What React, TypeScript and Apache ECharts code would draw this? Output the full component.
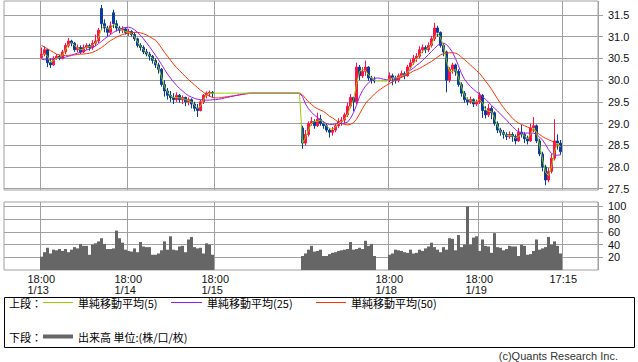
import React, { useEffect, useRef } from "react";
import * as echarts from "echarts";

// ---- axis layout data ----
const TOTAL_SLOTS = 198;
const FIRST_SLOT = 12;
const SEG_B_START = 99;
const SEG_C_START = 128;
const tickSlots = [12, 41, 70, 128, 158, 186];
const tickTimes = ["18:00", "18:00", "18:00", "18:00", "18:00", "17:15"];
const tickDates = ["1/13", "1/14", "1/15", "1/18", "1/19", ""];
const priceTicks = [27.5, 28.0, 28.5, 29.0, 29.5, 30.0, 30.5, 31.0, 31.5];
const volumeTicks = [20, 40, 60, 80, 100];

// ---- candles [open, close, low, high] ----
const candlesA = [
  [30.52, 30.60, 30.50, 30.75], [30.60, 30.70, 30.55, 30.78], [30.70, 30.40, 30.30, 30.72], [30.40, 30.35, 30.28, 30.50],
  [30.35, 30.50, 30.33, 30.55], [30.50, 30.55, 30.47, 30.60], [30.55, 30.50, 30.46, 30.58], [30.50, 30.65, 30.48, 30.70],
  [30.65, 30.80, 30.60, 30.85], [30.80, 30.90, 30.75, 30.97], [30.90, 30.85, 30.78, 30.93], [30.85, 30.70, 30.65, 30.88],
  [30.70, 30.75, 30.64, 30.82], [30.75, 30.65, 30.60, 30.80], [30.65, 30.75, 30.62, 30.82], [30.75, 30.80, 30.70, 30.85],
  [30.80, 30.75, 30.68, 30.84], [30.75, 30.85, 30.70, 30.92], [30.85, 30.90, 30.78, 31.05], [30.90, 31.15, 30.85, 31.20],
  [31.65, 31.30, 31.15, 31.73], [31.30, 31.20, 31.10, 31.40], [31.20, 31.10, 31.00, 31.25], [31.10, 31.25, 31.05, 31.35],
  [31.55, 31.30, 31.20, 31.62], [31.30, 31.20, 31.12, 31.38], [31.20, 31.15, 31.08, 31.25], [31.15, 31.18, 31.08, 31.24],
  [31.18, 31.10, 31.05, 31.22], [31.10, 31.12, 31.02, 31.18], [31.12, 31.05, 31.00, 31.15], [31.05, 30.95, 30.90, 31.10],
  [30.95, 30.80, 30.75, 30.98], [30.80, 30.75, 30.68, 30.85], [30.75, 30.65, 30.60, 30.80], [30.65, 30.60, 30.55, 30.72],
  [30.60, 30.55, 30.45, 30.65], [30.55, 30.45, 30.38, 30.58], [30.45, 30.35, 30.28, 30.50], [30.35, 30.25, 30.15, 30.40],
  [30.25, 29.90, 29.85, 30.28], [29.90, 29.75, 29.62, 30.00], [29.75, 29.65, 29.55, 29.82], [29.65, 29.60, 29.50, 29.75],
  [29.60, 29.55, 29.45, 29.70], [29.55, 29.65, 29.50, 29.72], [29.65, 29.55, 29.48, 29.68], [29.55, 29.60, 29.45, 29.65],
  [29.60, 29.50, 29.40, 29.62], [29.50, 29.55, 29.42, 29.60], [29.55, 29.45, 29.35, 29.58], [29.45, 29.35, 29.28, 29.50],
  [29.35, 29.30, 29.15, 29.45], [29.30, 29.50, 29.28, 29.55], [29.50, 29.65, 29.45, 29.68], [29.65, 29.70, 29.58, 29.74],
  [29.70, 29.72, 29.62, 29.76], [29.72, 29.70, 29.60, 29.75],
];
const candlesB = [
  [28.90, 28.55, 28.42, 28.95], [28.55, 28.75, 28.50, 28.85], [28.75, 29.00, 28.70, 29.05], [29.00, 29.05, 28.95, 29.15],
  [29.05, 28.95, 28.88, 29.10], [28.95, 29.10, 28.92, 29.25], [29.10, 29.00, 28.95, 29.20], [29.00, 28.95, 28.88, 29.05],
  [28.95, 28.85, 28.80, 29.00], [28.85, 28.80, 28.68, 28.90], [28.80, 28.85, 28.72, 28.92], [28.85, 28.95, 28.80, 29.00],
  [28.95, 29.05, 28.90, 29.12], [29.05, 29.08, 28.95, 29.15], [29.08, 29.20, 29.00, 29.25], [29.20, 29.40, 29.15, 29.48],
  [29.40, 29.60, 29.35, 29.68], [29.60, 29.50, 29.28, 29.62], [29.50, 30.30, 29.45, 30.40], [30.30, 30.10, 30.00, 30.35],
  [30.10, 30.20, 30.05, 30.30], [30.20, 30.30, 30.10, 30.45], [30.30, 30.05, 29.98, 30.32], [30.05, 30.00, 29.92, 30.10],
  [30.00, 29.98, 29.93, 30.08],
];
const candlesC = [
  [30.00, 30.10, 29.95, 30.18], [30.10, 30.05, 29.88, 30.15], [30.05, 30.00, 29.92, 30.10], [30.00, 30.10, 29.95, 30.15],
  [30.10, 30.15, 30.05, 30.22], [30.15, 30.10, 30.02, 30.20], [30.10, 30.30, 30.08, 30.35], [30.30, 30.40, 30.25, 30.48],
  [30.40, 30.50, 30.35, 30.58], [30.50, 30.55, 30.42, 30.62], [30.55, 30.70, 30.50, 30.78], [30.70, 30.75, 30.62, 30.82],
  [30.75, 30.70, 30.62, 30.80], [30.70, 30.80, 30.65, 30.87], [30.80, 30.95, 30.75, 31.02], [30.95, 31.20, 30.90, 31.32],
  [31.20, 31.10, 31.00, 31.25], [31.10, 30.80, 30.75, 31.12], [30.80, 30.65, 30.55, 30.85], [30.65, 30.00, 29.72, 30.68],
  [30.00, 30.25, 29.95, 30.30], [30.25, 30.35, 30.15, 30.40], [30.35, 30.20, 30.10, 30.38], [30.20, 29.90, 29.85, 30.25],
  [29.90, 29.70, 29.62, 29.95], [29.70, 29.55, 29.48, 29.75], [29.55, 29.50, 29.42, 29.60], [29.50, 29.55, 29.45, 29.62],
  [29.55, 29.45, 29.38, 29.58], [29.45, 29.50, 29.40, 29.55], [29.50, 29.65, 29.45, 29.72], [29.65, 29.30, 29.13, 29.68],
  [29.30, 29.20, 29.12, 29.40], [29.20, 29.35, 29.15, 29.45], [29.35, 29.25, 29.10, 29.40], [29.25, 29.00, 28.95, 29.28],
  [29.00, 28.85, 28.78, 29.05], [28.85, 28.80, 28.72, 28.90], [28.80, 28.75, 28.65, 28.85], [28.75, 28.70, 28.62, 28.80],
  [28.70, 28.75, 28.65, 28.82], [28.75, 28.70, 28.58, 28.80], [28.70, 28.60, 28.52, 28.75], [28.60, 28.80, 28.58, 28.90],
  [28.80, 28.75, 28.68, 28.97], [28.75, 28.65, 28.55, 28.80], [28.65, 28.60, 28.52, 28.72], [28.60, 28.90, 28.58, 29.00],
  [28.90, 28.95, 28.80, 29.15], [28.95, 28.60, 28.55, 28.98], [28.60, 28.30, 28.25, 28.65], [28.30, 28.00, 27.90, 28.35],
  [28.00, 27.70, 27.58, 28.05], [27.70, 27.90, 27.65, 27.98], [27.90, 28.20, 27.85, 28.30], [28.20, 28.60, 28.15, 29.10],
  [28.60, 28.55, 28.40, 28.75], [28.55, 28.35, 28.28, 28.62],
];

// ---- volume (per slot) ----
const volumeA = [21, 28, 35, 26, 32, 31, 33, 30, 33, 28, 32, 36, 34, 41, 38, 38, 24, 40, 42, 45, 50, 41, 33, 33, 34, 62, 50, 43, 32, 30, 29, 34, 28, 44, 37, 36, 36, 24, 24, 26, 31, 45, 32, 53, 32, 31, 37, 38, 28, 48, 52, 36, 34, 35, 26, 42, 40, 24];
const volumeB = [22, 26, 32, 38, 29, 30, 32, 22, 22, 25, 27, 28, 30, 31, 32, 33, 44, 32, 33, 35, 33, 46, 38, 41, 22];
const volumeC = [24, 26, 32, 31, 30, 28, 27, 32, 26, 27, 32, 30, 34, 37, 43, 36, 32, 28, 36, 32, 50, 49, 31, 55, 36, 40, 100, 40, 51, 53, 30, 48, 38, 37, 27, 58, 36, 35, 31, 33, 38, 37, 37, 22, 40, 38, 24, 25, 30, 48, 32, 34, 36, 52, 40, 45, 38, 26];

// ---- moving averages, slots 12..185 ----
const ma5 = [
  30.55, 30.62, 30.55, 30.42, 30.45, 30.50, 30.52, 30.57, 30.70, 30.82,
  30.86, 30.80, 30.74, 30.70, 30.71, 30.76, 30.77, 30.80, 30.86, 30.98,
  31.18, 31.25, 31.18, 31.18, 31.28, 31.26, 31.18, 31.15, 31.12, 31.10,
  31.07, 31.00, 30.88, 30.78, 30.70, 30.63, 30.57, 30.50, 30.40, 30.30,
  30.08, 29.85, 29.72, 29.64, 29.60, 29.60, 29.59, 29.58, 29.55, 29.53,
  29.50, 29.42, 29.35, 29.40, 29.55, 29.65, 29.70, 29.70,
  29.70, 29.70, 29.70, 29.70, 29.70, 29.70, 29.70, 29.70, 29.70, 29.70,
  29.70, 29.70, 29.70, 29.70, 29.70, 29.70, 29.70, 29.70, 29.70, 29.70,
  29.70, 29.70, 29.70, 29.70, 29.70, 29.70, 29.70, 29.70, 29.70,
  28.55, 28.68, 28.85, 29.00, 29.05, 29.05, 29.08, 29.02, 28.95, 28.88,
  28.87, 28.92, 29.00, 29.05, 29.10, 29.20, 29.40, 29.55, 29.90, 30.20,
  30.25, 30.22, 30.12, 30.05, 30.00, 29.98, 29.98, 29.98, 29.98,
  30.02, 30.05, 30.05, 30.06, 30.10, 30.12, 30.18, 30.28, 30.38, 30.48,
  30.58, 30.66, 30.70, 30.74, 30.82, 30.98, 31.08, 30.98, 30.78, 30.45,
  30.20, 30.20, 30.25, 30.05, 29.85, 29.65, 29.56, 29.53, 29.50, 29.50,
  29.56, 29.48, 29.32, 29.28, 29.28, 29.12, 28.95, 28.82, 28.77, 28.73,
  28.72, 28.72, 28.66, 28.70, 28.76, 28.72, 28.65, 28.75, 28.90, 28.80,
  28.50, 28.18, 27.88, 27.80, 28.00, 28.35, 28.55, 28.46,
];
const ma25 = [
  30.48, 30.47, 30.47, 30.48, 30.49, 30.50, 30.51, 30.52, 30.53, 30.55,
  30.57, 30.60, 30.62, 30.64, 30.66, 30.69, 30.72, 30.75, 30.79, 30.84,
  30.89, 30.95, 31.00, 31.05, 31.10, 31.14, 31.17, 31.20, 31.21, 31.22,
  31.20, 31.16, 31.10, 31.03, 30.95, 30.86, 30.77, 30.67, 30.57, 30.47,
  30.36, 30.25, 30.14, 30.05, 29.96, 29.88, 29.81, 29.75, 29.69, 29.64,
  29.61, 29.58, 29.56, 29.55, 29.54, 29.54, 29.54, 29.55,
  29.55, 29.56, 29.57, 29.59, 29.60, 29.62, 29.63, 29.65, 29.66, 29.68, 29.69,
  29.70, 29.70, 29.70, 29.70, 29.70, 29.70, 29.70, 29.70, 29.70,
  29.70, 29.70, 29.70, 29.70, 29.70, 29.70, 29.70, 29.70, 29.70,
  29.62, 29.45, 29.34, 29.26, 29.19, 29.14, 29.09, 29.04, 29.00, 28.98,
  28.98, 28.99, 29.00, 29.00, 29.01, 29.03, 29.12, 29.25, 29.42, 29.62,
  29.76, 29.86, 29.94, 30.00, 30.04, 30.05, 30.04, 30.02, 30.01,
  30.00, 30.00, 30.02, 30.05, 30.08, 30.12, 30.18, 30.23, 30.28, 30.34,
  30.39, 30.45, 30.52, 30.59, 30.66, 30.73, 30.80, 30.84, 30.85, 30.82,
  30.74, 30.64, 30.50, 30.33, 30.15, 30.02, 29.93, 29.85, 29.79, 29.73,
  29.68, 29.62, 29.56, 29.49, 29.42, 29.35, 29.29, 29.22, 29.15, 29.08,
  29.00, 28.93, 28.86, 28.81, 28.79, 28.78, 28.78, 28.78, 28.78, 28.75,
  28.69, 28.62, 28.52, 28.40, 28.31, 28.28, 28.27, 28.28,
];
const ma50 = [
  30.80, 30.76, 30.72, 30.68, 30.64, 30.60, 30.58, 30.57, 30.57, 30.57,
  30.58, 30.58, 30.59, 30.60, 30.60, 30.61, 30.62, 30.64, 30.67, 30.71,
  30.75, 30.80, 30.86, 30.91, 30.95, 30.99, 31.02, 31.05, 31.07, 31.08,
  31.09, 31.10, 31.10, 31.09, 31.07, 31.04, 31.00, 30.96, 30.92, 30.84,
  30.74, 30.64, 30.55, 30.46, 30.37, 30.29, 30.22, 30.15, 30.08, 30.01,
  29.95, 29.89, 29.83, 29.77, 29.72, 29.67, 29.63, 29.60,
  29.59, 29.59, 29.60, 29.61, 29.62, 29.63, 29.64, 29.65, 29.66, 29.67, 29.68, 29.69,
  29.70, 29.70, 29.70, 29.70, 29.70, 29.70, 29.70, 29.70, 29.70,
  29.70, 29.70, 29.70, 29.70, 29.70, 29.70, 29.70, 29.70,
  29.66, 29.58, 29.50, 29.44, 29.38, 29.34, 29.31, 29.28, 29.23, 29.17,
  29.13, 29.08, 29.03, 29.00, 28.98, 28.97, 28.98, 29.02, 29.10, 29.22,
  29.35, 29.46, 29.54, 29.61, 29.68, 29.74, 29.79, 29.84, 29.88,
  29.92, 29.96, 30.00, 30.03, 30.06, 30.10, 30.14, 30.17, 30.21, 30.24,
  30.27, 30.31, 30.35, 30.39, 30.43, 30.48, 30.53, 30.58, 30.61, 30.62,
  30.63, 30.63, 30.62, 30.59, 30.53, 30.47, 30.41, 30.35, 30.28, 30.22,
  30.16, 30.07, 29.98, 29.89, 29.79, 29.68, 29.57, 29.46, 29.37, 29.28,
  29.20, 29.12, 29.06, 29.01, 28.98, 28.95, 28.92, 28.89, 28.85, 28.80,
  28.75, 28.70, 28.66, 28.63, 28.60, 28.55, 28.50, 28.47,
];

// ---- styles ----
const UP = "#ff1048";
const DOWN = "#0a3c9e";
const MA5_COLOR = "#99cc00";
const MA25_COLOR = "#9b1cf0";
const MA50_COLOR = "#ff3300";
const VOL_COLOR = "#666666";
const GRID_COLOR = "#a0a0a0";
const LATIN = "'Liberation Sans', Arial, sans-serif";
const CJK = "'Noto Sans CJK JP', sans-serif";

function place(values: any[], start: number): any[] {
  const out: any[] = new Array(TOTAL_SLOTS).fill("-");
  values.forEach((v, k) => {
    out[start + k] = v;
  });
  return out;
}

export default function App() {
  const ref = useRef<HTMLDivElement>(null);

  useEffect(() => {
    if (!ref.current) return;
    const chart = echarts.init(ref.current, null, { renderer: "svg" });

    const slots = Array.from({ length: TOTAL_SLOTS }, (_, i) => String(i));
    const candleFull = place(candlesA, FIRST_SLOT);
    candlesB.forEach((c, k) => (candleFull[SEG_B_START + k] = c));
    candlesC.forEach((c, k) => (candleFull[SEG_C_START + k] = c));
    const volFull = place(volumeA, FIRST_SLOT);
    volumeB.forEach((v, k) => (volFull[SEG_B_START + k] = v));
    volumeC.forEach((v, k) => (volFull[SEG_C_START + k] = v));

    const isTick = (i: number) => tickSlots.includes(i);

    const lineSeries = (name: string, data: number[], color: string, z: number) => ({
      name,
      type: "line",
      xAxisIndex: 0,
      yAxisIndex: 0,
      data: place(data, FIRST_SLOT),
      symbol: "none",
      showSymbol: false,
      lineStyle: { color, width: 1 },
      itemStyle: { color },
      z,
    });

    const labelFont = { fontFamily: LATIN, fontSize: 11, color: "#111" };
    const textStyle = (text: string, extra: any = {}) => ({
      text,
      fontFamily: CJK,
      fontSize: 11,
      fill: "#000",
      verticalAlign: "middle",
      ...extra,
    });

    chart.setOption({
      animation: false,
      backgroundColor: "#ffffff",
      grid: [
        { left: 4, top: 1, width: 594, height: 189, show: true, borderColor: GRID_COLOR, borderWidth: 1 },
        { left: 4, top: 202, width: 594, height: 68, show: true, borderColor: GRID_COLOR, borderWidth: 1 },
      ],
      xAxis: [
        {
          type: "category",
          gridIndex: 0,
          data: slots,
          boundaryGap: true,
          axisLine: { show: false },
          axisTick: { show: false },
          axisLabel: { show: false },
          splitLine: { show: true, interval: (i: number) => isTick(i), lineStyle: { color: GRID_COLOR, width: 1 } },
        },
        {
          type: "category",
          gridIndex: 1,
          data: slots,
          boundaryGap: true,
          axisLine: { show: false },
          axisTick: { show: false },
          axisLabel: {
            show: true,
            interval: (i: number) => isTick(i),
            margin: 3,
            formatter: (_v: string, i: number) => {
              const k = tickSlots.indexOf(i);
              if (k < 0) return "";
              return tickDates[k] ? `{a|${tickTimes[k]}}\n{a|${tickDates[k]}}` : `{a|${tickTimes[k]}}`;
            },
            rich: {
              a: { width: 28, align: "left", fontFamily: LATIN, fontSize: 11, lineHeight: 11, color: "#111" },
            },
          },
          splitLine: { show: true, interval: (i: number) => isTick(i), lineStyle: { color: GRID_COLOR, width: 1 } },
        },
      ],
      yAxis: [
        {
          type: "value",
          gridIndex: 0,
          position: "right",
          min: 27.47,
          max: 31.822,
          axisLine: { show: false },
          axisTick: { show: true, length: 5, customValues: priceTicks, lineStyle: { color: GRID_COLOR } },
          axisLabel: {
            customValues: priceTicks,
            margin: 10,
            formatter: (v: number) => v.toFixed(1),
            ...labelFont,
          },
          splitLine: { show: true, lineStyle: { color: GRID_COLOR, width: 1 } },
        },
        {
          type: "value",
          gridIndex: 1,
          position: "right",
          min: 0,
          max: 107,
          axisLine: { show: false },
          axisTick: { show: true, length: 5, customValues: volumeTicks, lineStyle: { color: GRID_COLOR } },
          axisLabel: {
            customValues: volumeTicks,
            margin: 10,
            ...labelFont,
          },
          splitLine: { show: true, lineStyle: { color: GRID_COLOR, width: 1 } },
        },
      ],
      series: [
        {
          name: "price",
          type: "candlestick",
          xAxisIndex: 0,
          yAxisIndex: 0,
          data: candleFull,
          barWidth: 1.6,
          itemStyle: { color: UP, color0: DOWN, borderColor: UP, borderColor0: DOWN, borderWidth: 1 },
          z: 2,
        },
        lineSeries("ma50", ma50, MA50_COLOR, 3),
        lineSeries("ma25", ma25, MA25_COLOR, 4),
        lineSeries("ma5", ma5, MA5_COLOR, 5),
        {
          name: "volume",
          type: "bar",
          xAxisIndex: 1,
          yAxisIndex: 1,
          data: volFull,
          barCategoryGap: "0%",
          itemStyle: { color: VOL_COLOR },
          z: 2,
        },
      ],
      graphic: [
        { type: "rect", shape: { x: 4.5, y: 297.5, width: 630, height: 50 }, style: { fill: "#fff", stroke: "#000", lineWidth: 1 } },
        { type: "text", x: 9, y: 303, style: textStyle("上段：") },
        { type: "line", shape: { x1: 43, y1: 302.5, x2: 73, y2: 302.5 }, style: { stroke: MA5_COLOR, lineWidth: 1 } },
        { type: "text", x: 78, y: 303, style: textStyle("単純移動平均(5)") },
        { type: "line", shape: { x1: 171, y1: 302.5, x2: 202, y2: 302.5 }, style: { stroke: MA25_COLOR, lineWidth: 1 } },
        { type: "text", x: 207, y: 303, style: textStyle("単純移動平均(25)") },
        { type: "line", shape: { x1: 316, y1: 302.5, x2: 346, y2: 302.5 }, style: { stroke: MA50_COLOR, lineWidth: 1 } },
        { type: "text", x: 351, y: 303, style: textStyle("単純移動平均(50)") },
        { type: "text", x: 9, y: 337, style: textStyle("下段：") },
        { type: "line", shape: { x1: 43, y1: 336.5, x2: 73, y2: 336.5 }, style: { stroke: VOL_COLOR, lineWidth: 4 } },
        { type: "text", x: 78, y: 337, style: textStyle("出来高 単位:(株/口/枚)") },
        {
          type: "text",
          x: 618,
          y: 356,
          style: { text: "(c)Quants Research Inc.", fontFamily: LATIN, fontSize: 11, fill: "#333", align: "right", verticalAlign: "middle" },
        },
      ],
    });

    return () => chart.dispose();
  }, []);

  return (
    <div
      ref={ref}
      style={{ position: "fixed", left: 0, top: 0, width: 638, height: 362, background: "#fff" }}
    />
  );
}
